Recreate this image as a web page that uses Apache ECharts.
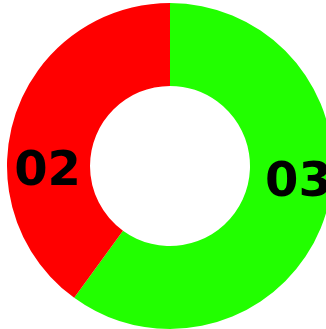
<!DOCTYPE html>
<html><head><meta charset="utf-8">
<script src="https://cdn.jsdelivr.net/npm/echarts@6/dist/echarts.min.js"></script>
<style>html,body{margin:0;padding:0;background:#fff}#c{width:326px;height:329px}</style>
</head><body><div id="c"></div>
<script>
const categories = ['03', '02'];
const values = [3, 2];
const colors = ['#22ff00', '#ff0000'];
const labelOffsets = [[10, -21], [-4, 45]];

const chart = echarts.init(document.getElementById('c'), null, {renderer: 'canvas'});
chart.setOption({
  animation: false,
  series: [{
    type: 'pie',
    center: [170, 166],
    radius: [80, 163],
    startAngle: 90,
    clockwise: true,
    avoidLabelOverlap: false,
    label: {
      show: true,
      position: 'inside',
      formatter: '{b}',
      color: '#000',
      fontFamily: 'DejaVu Sans',
      fontWeight: 'bold',
      fontSize: 48
    },
    labelLine: {show: false},
    emphasis: {disabled: true},
    data: categories.map((c, i) => ({
      name: c, value: values[i],
      itemStyle: {color: colors[i]},
      label: {offset: labelOffsets[i]}
    }))
  }]
});
</script></body></html>
